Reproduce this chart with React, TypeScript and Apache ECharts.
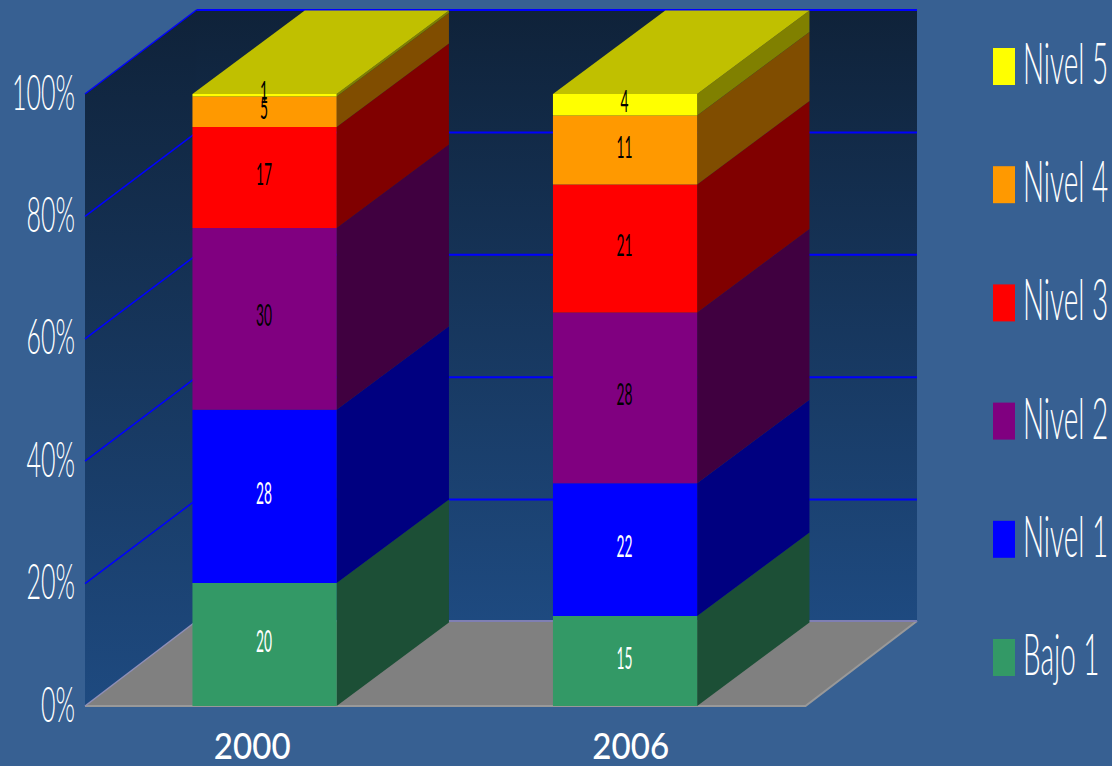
import React, { useEffect, useRef } from "react";
import * as echarts from "echarts";

const categories = ["2000", "2006"];
const yTicks = [0, 20, 40, 60, 80, 100];

// Heights of each segment (share of 100%)
const bajo1 = [20.1, 14.7];
const nivel1 = [28.3, 21.7];
const nivel2 = [29.7, 27.9];
const nivel3 = [16.5, 20.9];
const nivel4 = [5.0, 11.3];
const nivel5 = [0.4, 3.5];

// Printed data labels
const bajo1Labels = ["20", "15"];
const nivel1Labels = ["28", "22"];
const nivel2Labels = ["30", "28"];
const nivel3Labels = ["17", "21"];
const nivel4Labels = ["5", "11"];
const nivel5Labels = ["1", "4"];

const seriesNames = ["Bajo 1", "Nivel 1", "Nivel 2", "Nivel 3", "Nivel 4", "Nivel 5"];
const seriesValues = [bajo1, nivel1, nivel2, nivel3, nivel4, nivel5];
const seriesLabels = [bajo1Labels, nivel1Labels, nivel2Labels, nivel3Labels, nivel4Labels, nivel5Labels];
const frontColors = ["#339966", "#0000ff", "#800080", "#ff0000", "#ff9900", "#ffff00"];
const sideColors = ["#1c4f36", "#000080", "#400040", "#800000", "#804d00", "#808000"];
const labelColors = ["#ffffff", "#ffffff", "#000000", "#000000", "#000000", "#000000"];
const TOP_COLOR = "#c0c000";

const BG = "#376092";
const WALL_DX = 111.5;
const FLOOR_DY = -85;
const WALL_DY = -84;
const BAR_DX = 112.3;
const BAR_DY = -83.5;
const BAR_RATIO = 0.4;
const FONT = "Lato, sans-serif";
const CAT_SHIFT = [-13, 5];

function wallsItem(params: any, api: any) {
  const c = params.coordSys;
  const x0 = c.x, x1 = c.x + c.width - 0.5, y0 = c.y + c.height, y1 = c.y;
  const grad = () =>
    new echarts.graphic.LinearGradient(0, 0, 0, 1, [
      { offset: 0, color: "#0f2239" },
      { offset: 1, color: "#1e4a80" },
    ]);
  const seam = x0 + WALL_DX - 1;
  return {
    type: "group",
    children: [
      { type: "polygon", shape: { points: [[x0, y1], [x0 + WALL_DX, y1 + WALL_DY], [x0 + WALL_DX, y0 + FLOOR_DY], [x0, y0]] }, style: { fill: grad() } },
      { type: "polygon", shape: { points: [[seam, y1 + WALL_DY], [x1 + WALL_DX, y1 + WALL_DY], [x1 + WALL_DX, y0 + FLOOR_DY], [seam, y0 + FLOOR_DY]] }, style: { fill: grad() } },
      { type: "polygon", shape: { points: [[x0, y0], [x0 + WALL_DX, y0 + FLOOR_DY], [x1 + WALL_DX, y0 + FLOOR_DY], [x1, y0]] }, style: { fill: "#808080" } },
      { type: "polyline", shape: { points: [[x0, y0], [x1, y0], [x1 + WALL_DX, y0 + FLOOR_DY]] }, style: { stroke: "#999999", lineWidth: 2, fill: "none" } },
    ],
  };
}

function tickItem(params: any, api: any) {
  const v = api.value(0);
  const c = params.coordSys;
  const y = api.coord([0, v])[1];
  const x0 = c.x, x1 = c.x + c.width - 0.5;
  const zero = v === 0;
  const back = y + (zero ? FLOOR_DY : WALL_DY);
  return {
    type: "group",
    children: [
      { type: "line", shape: { x1: x0, y1: y, x2: x0 + WALL_DX, y2: back }, style: { stroke: zero ? "#8f8fb8" : "#0000ff", lineWidth: 1.5 } },
      { type: "line", shape: { x1: x0 + WALL_DX, y1: back, x2: x1 + WALL_DX, y2: back }, style: { stroke: zero ? "#7f7fb4" : "#0000ff", lineWidth: 2 } },
      {
        type: "text",
        x: x0 - 10,
        y: y - 4,
        scaleX: 0.5,
        style: { text: `${v}%`, fill: "#ffffff", fontFamily: FONT, fontWeight: 300, fontSize: 50, align: "right", verticalAlign: "middle" },
      },
    ],
  };
}

function categoryItem(params: any, api: any) {
  const i = api.value(0);
  const p = api.coord([i, 0]);
  return {
    type: "text",
    x: p[0] + CAT_SHIFT[i],
    y: p[1] + 38.5,
    scaleX: 0.92,
    style: { text: categories[i], fill: "#ffffff", fontFamily: FONT, fontWeight: 500, fontSize: 36, align: "center", verticalAlign: "middle" },
  };
}

function barItem(s: number) {
  return (params: any, api: any) => {
    const idx = api.value(0);
    const band = api.size([1, 0])[0];
    const w = band * BAR_RATIO;
    const bottom = api.coord([idx, api.value(1)]);
    const top = api.coord([idx, api.value(2)]);
    const left = bottom[0] - w / 2 - 0.7;
    const right = left + w;
    const children: any[] = [
      { type: "polygon", shape: { points: [[right, bottom[1]], [right + BAR_DX, bottom[1] + BAR_DY], [right + BAR_DX, top[1] + BAR_DY], [right, top[1]]] }, style: { fill: sideColors[s] } },
      { type: "rect", shape: { x: left, y: top[1], width: w, height: bottom[1] - top[1] }, style: { fill: frontColors[s] } },
    ];
    if (s === seriesNames.length - 1) {
      children.push({ type: "polygon", shape: { points: [[left, top[1]], [right, top[1]], [right + BAR_DX, top[1] + BAR_DY], [left + BAR_DX, top[1] + BAR_DY]] }, style: { fill: TOP_COLOR } });
    }
    children.push({
      type: "text",
      x: left + w / 2 - 0.5,
      y: (top[1] + bottom[1]) / 2 - 4,
      scaleX: 0.46,
      z2: 10,
      style: { text: seriesLabels[s][params.dataIndex], fill: labelColors[s], fontFamily: FONT, fontSize: 30, align: "center", verticalAlign: "middle" },
    });
    return { type: "group", children };
  };
}

export default function App() {
  const ref = useRef<HTMLDivElement>(null);
  useEffect(() => {
    document.body.style.margin = "0";
    const chart = echarts.init(ref.current!, null, { renderer: "svg" });
    const running = categories.map(() => 0);
    const barSeries = seriesNames.map((name, s) => ({
      type: "custom",
      name,
      silent: true,
      clip: false,
      renderItem: barItem(s),
      encode: { x: 0, y: [1, 2] },
      data: categories.map((_, i) => {
        const start = running[i];
        running[i] += seriesValues[s][i];
        return [i, start, running[i]];
      }),
    }));
    const legendOrder = [...seriesNames.keys()].reverse();
    chart.setOption({
      animation: false,
      backgroundColor: BG,
      grid: { left: 85, right: 306, top: 94, bottom: 60 },
      xAxis: {
        type: "category",
        data: categories,
        axisLine: { show: false },
        axisTick: { show: false },
        axisLabel: { show: false },
      },
      yAxis: {
        type: "value",
        min: 0,
        max: 100,
        interval: 20,
        axisLine: { show: false },
        axisTick: { show: false },
        axisLabel: { show: false },
        splitLine: { show: false },
      },
      series: [
        { type: "custom", name: "walls", silent: true, clip: false, renderItem: wallsItem, encode: { x: 0, y: 1 }, data: [[0, 0]] },
        { type: "custom", name: "ticks", silent: true, clip: false, renderItem: tickItem, encode: { y: 0 }, data: yTicks.map((v) => [v]) },
        { type: "custom", name: "categories", silent: true, clip: false, renderItem: categoryItem, encode: { x: 0 }, data: categories.map((_, i) => [i]) },
        ...barSeries,
      ],
      graphic: {
        elements: legendOrder.flatMap((s, row) => {
          const top = 48 + row * 118.2;
          return [
            { type: "rect", silent: true, shape: { x: 993, y: top, width: 22, height: 37 }, style: { fill: frontColors[s] } },
            {
              type: "text",
              silent: true,
              x: 1023,
              y: top + 14.5,
              scaleX: 0.49,
              style: { text: seriesNames[s], fill: "#ffffff", fontFamily: FONT, fontWeight: 300, fontSize: 57, align: "left", verticalAlign: "middle" },
            },
          ];
        }),
      },
    });
    return () => chart.dispose();
  }, []);
  return <div ref={ref} style={{ position: "absolute", left: 0, top: 0, width: 1112, height: 766 }} />;
}
